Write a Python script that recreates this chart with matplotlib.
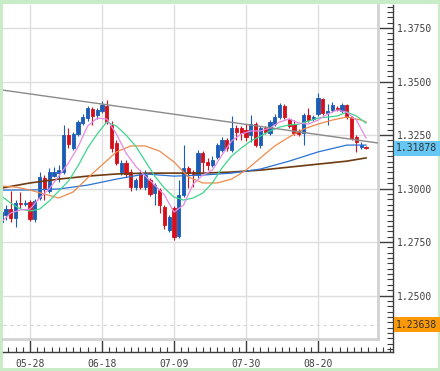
import matplotlib.pyplot as plt
import matplotlib.transforms as mtransforms
from matplotlib.patches import Rectangle
from matplotlib.ticker import MultipleLocator
import numpy as np
import pandas as pd

# daily candles, 2013-05-20 .. 2013-09-03 (weekdays)
dates = pd.bdate_range('2013-05-20', '2013-09-03').strftime('%m-%d').tolist()

opens = [1.2843, 1.2876, 1.2904, 1.2862, 1.2932, 1.2928, 1.2937, 1.2857, 1.2956, 1.3049,
         1.2988, 1.3058, 1.3072, 1.3077, 1.3250, 1.3189, 1.3255, 1.3306, 1.3329, 1.3371,
         1.3343, 1.3362, 1.3386, 1.3297, 1.3213, 1.3077, 1.3119, 1.3077, 1.3007, 1.3068,
         1.3007, 1.3040, 1.2979, 1.2993, 1.2914, 1.2806, 1.2909, 1.2778, 1.2970, 1.3096,
         1.3077, 1.3063, 1.3166, 1.3124, 1.3110, 1.3147, 1.3180, 1.3227, 1.3180, 1.3283,
         1.3283, 1.3273, 1.3250, 1.3301, 1.3203, 1.3283, 1.3259, 1.3301, 1.3334, 1.3386,
         1.3325, 1.3301, 1.3269, 1.3259, 1.3343, 1.3325, 1.3348, 1.3418, 1.3353, 1.3367,
         1.3376, 1.3362, 1.3390, 1.3334, 1.3241, 1.3194, 1.3194]
highs = [1.2909, 1.2923, 1.2988, 1.2946, 1.2984, 1.2946, 1.2946, 1.2951, 1.3077, 1.3063,
         1.3096, 1.3100, 1.3110, 1.3297, 1.3283, 1.3264, 1.3320, 1.3348, 1.3386, 1.3381,
         1.3376, 1.3409, 1.3414, 1.3315, 1.3227, 1.3133, 1.3133, 1.3091, 1.3049, 1.3086,
         1.3086, 1.3049, 1.3026, 1.3002, 1.2923, 1.2876, 1.2918, 1.3040, 1.3203, 1.3105,
         1.3086, 1.3180, 1.3175, 1.3143, 1.3152, 1.3213, 1.3241, 1.3236, 1.3339, 1.3297,
         1.3292, 1.3301, 1.3343, 1.3311, 1.3292, 1.3292, 1.3320, 1.3348, 1.3400, 1.3395,
         1.3329, 1.3320, 1.3278, 1.3353, 1.3376, 1.3343, 1.3446, 1.3423, 1.3395, 1.3404,
         1.3386, 1.3400, 1.3395, 1.3339, 1.3250, 1.3217, 1.3199]
lows = [1.2834, 1.2853, 1.2843, 1.2820, 1.2909, 1.2918, 1.2848, 1.2843, 1.2946, 1.2946,
        1.2979, 1.3054, 1.3030, 1.3068, 1.3189, 1.3180, 1.3245, 1.3297, 1.3315, 1.3297,
        1.3325, 1.3353, 1.3301, 1.3171, 1.3110, 1.3063, 1.3054, 1.2988, 1.2993, 1.2998,
        1.2993, 1.2965, 1.2923, 1.2886, 1.2811, 1.2797, 1.2759, 1.2769, 1.2960, 1.3002,
        1.3007, 1.3049, 1.3077, 1.3086, 1.3100, 1.3138, 1.3171, 1.3175, 1.3171, 1.3227,
        1.3227, 1.3222, 1.3217, 1.3194, 1.3189, 1.3255, 1.3250, 1.3292, 1.3325, 1.3325,
        1.3283, 1.3250, 1.3245, 1.3203, 1.3311, 1.3315, 1.3339, 1.3343, 1.3297, 1.3357,
        1.3362, 1.3353, 1.3325, 1.3227, 1.3171, 1.3185, 1.3185]
closes = [1.2890, 1.2904, 1.2862, 1.2932, 1.2928, 1.2932, 1.2857, 1.2942, 1.3054, 1.3002,
          1.3077, 1.3077, 1.3086, 1.3250, 1.3208, 1.3255, 1.3311, 1.3334, 1.3376, 1.3339,
          1.3367, 1.3390, 1.3311, 1.3189, 1.3119, 1.3119, 1.3068, 1.3007, 1.3040, 1.3007,
          1.3063, 1.2974, 1.3016, 1.2923, 1.2829, 1.2867, 1.2773, 1.2970, 1.3096, 1.3072,
          1.3068, 1.3166, 1.3124, 1.3110, 1.3133, 1.3203, 1.3227, 1.3189, 1.3283, 1.3264,
          1.3259, 1.3241, 1.3301, 1.3203, 1.3283, 1.3264, 1.3311, 1.3334, 1.3390, 1.3334,
          1.3292, 1.3259, 1.3255, 1.3343, 1.3320, 1.3334, 1.3423, 1.3353, 1.3362, 1.3390,
          1.3371, 1.3390, 1.3334, 1.3236, 1.3217, 1.3203, 1.31878]

# moving averages (day position, value)
ma_pink_days = [0, 2, 4, 6, 8, 10, 12, 14, 16, 18, 20, 22, 24, 26, 28, 30, 32, 34, 36, 38,
                40, 42, 44, 46, 48, 50, 52, 54, 56, 58, 60, 62, 64, 66, 68, 70, 72, 74, 76]
ma_pink = [1.2843, 1.2886, 1.2900, 1.2904, 1.2956, 1.2998, 1.3058, 1.3119, 1.3194, 1.3292,
           1.3329, 1.3325, 1.3255, 1.3166, 1.3105, 1.3058, 1.3016, 1.2970, 1.2890, 1.2923,
           1.3021, 1.3063, 1.3086, 1.3157, 1.3222, 1.3255, 1.3269, 1.3269, 1.3283, 1.3311,
           1.3325, 1.3306, 1.3301, 1.3320, 1.3348, 1.3367, 1.3357, 1.3320, 1.3236]
ma_green_days = ma_pink_days
ma_green = [1.2965, 1.2932, 1.2904, 1.2895, 1.2904, 1.2942, 1.2988, 1.3035, 1.3105, 1.3189,
            1.3255, 1.3311, 1.3292, 1.3250, 1.3199, 1.3128, 1.3058, 1.3002, 1.2960, 1.2946,
            1.2956, 1.2979, 1.3026, 1.3096, 1.3152, 1.3189, 1.3222, 1.3245, 1.3269, 1.3287,
            1.3297, 1.3301, 1.3315, 1.3329, 1.3334, 1.3339, 1.3357, 1.3339, 1.3306]
ma_orange_days = [0, 3, 6, 9, 12, 15, 18, 21, 24, 27, 30, 33, 36, 39, 42, 45, 48, 51, 54,
                  57, 60, 63, 66, 69, 72, 75, 76]
ma_orange = [1.3012, 1.3007, 1.2993, 1.2974, 1.2956, 1.2984, 1.3049, 1.3110, 1.3171, 1.3199,
             1.3199, 1.3175, 1.3124, 1.3054, 1.3026, 1.3026, 1.3044, 1.3086, 1.3143, 1.3199,
             1.3241, 1.3278, 1.3301, 1.3320, 1.3334, 1.3320, 1.3311]
ma_long_days = [0, 6, 12, 18, 24, 30, 36, 42, 48, 54, 60, 66, 72, 76]
ma_blue = [1.2993, 1.2993, 1.2998, 1.3016, 1.3044, 1.3068, 1.3058, 1.3063, 1.3072, 1.3091,
           1.3128, 1.3171, 1.3203, 1.3203]
ma_brown = [1.3002, 1.3026, 1.3044, 1.3058, 1.3068, 1.3072, 1.3072, 1.3072, 1.3077, 1.3086,
            1.3100, 1.3114, 1.3128, 1.3143]

trend_days = [0, 80]
trend_price = [1.3461, 1.3208]

date_ticks = ['05-28', '06-18', '07-09', '07-30', '08-20']
price_ticks = [1.2500, 1.2750, 1.3000, 1.3250, 1.3500, 1.3750]
last_price = 1.31878
ref_price = 1.23638

BLUE = '#1a5cb6'
RED = '#d3101c'
AXC = '#3c3c3c'
MONO = 'DejaVu Sans Mono'

W, H = 440, 371
fig = plt.figure(figsize=(W / 100, H / 100), dpi=100, facecolor='#c8ecc6')
fig.patches.append(Rectangle((3 / W, 1 - 368 / H), 435 / W, 364 / H,
                             transform=fig.transFigure, fc='white', ec='none', zorder=-5))


def frac(l, t, r, b):
    return [l / W, 1 - b / H, (r - l) / W, (b - t) / H]


axf = fig.add_axes(frac(3, 5, 393, 352))
ax = fig.add_axes(frac(3, 5, 378, 339))

# plot area scales
x0, x1 = 0.375, 78.5
y0, y1 = 1.2297, 1.38575
ax.set_xlim(x0, x1)
ax.set_ylim(y0, y1)
xpp = (x1 - x0) / 375
ypp = (y1 - y0) / 334
axf.set_xlim(x0, x0 + 390 * xpp)
axf.set_ylim(y1 - 347 * ypp, y1)

pos = np.arange(len(dates))
tick_pos = [dates.index(d) for d in date_ticks]

# grid + frame of the plot area
ax.set_facecolor('white')
ax.set_xticks(tick_pos)
ax.set_yticks(price_ticks)
ax.grid(color='#dedede', lw=1)
ax.tick_params(length=0, labelleft=False, labelbottom=False)
for s in ['top', 'left']:
    ax.spines[s].set_visible(False)
for s in ['right', 'bottom']:
    ax.spines[s].set_color('#d2d2d2')
    ax.spines[s].set_linewidth(2)
ax.axhline(ref_price, color='#d4d4d4', lw=0.8, ls=(0, (3, 3)), zorder=1)

# candles
o = np.array(opens)
c = np.array(closes)
col = np.where(c >= o, BLUE, RED)
ax.vlines(pos, lows, highs, colors=col, lw=0.8, zorder=2)
ax.bar(pos, np.abs(c - o), bottom=np.minimum(o, c), width=0.7, color=col,
       edgecolor=col, lw=0.6, zorder=3)

# moving averages and trend line
ax.plot(ma_long_days, ma_brown, color='#6e3b10', lw=1.2, zorder=4)
ax.plot(ma_long_days, ma_blue, color='#2a72d2', lw=0.9, zorder=4)
ax.plot(ma_orange_days, ma_orange, color='#f08a4c', lw=0.9, zorder=4)
ax.plot(ma_green_days, ma_green, color='#3fd68e', lw=0.9, zorder=4)
ax.plot(ma_pink_days, ma_pink, color='#e68ae6', lw=0.9, zorder=4)
ax.plot(trend_days, trend_price, color='#8a8a8a', lw=1, zorder=4)

# outer axes with ticks and labels
axf.patch.set_visible(False)
for s in ['top', 'left']:
    axf.spines[s].set_visible(False)
for s in ['right', 'bottom']:
    axf.spines[s].set_color(AXC)
    axf.spines[s].set_linewidth(1)
axf.yaxis.tick_right()
axf.set_yticks(price_ticks)
axf.set_yticklabels([f'{p:.4f}' for p in price_ticks], family=MONO, fontsize=7)
axf.yaxis.set_minor_locator(MultipleLocator(0.0025))
axf.set_xticks(tick_pos)
axf.set_xticklabels(date_ticks, family=MONO, fontsize=7)
axf.xaxis.set_minor_locator(MultipleLocator(1.5))
axf.tick_params(axis='y', which='major', direction='in', length=10.8, width=1,
                color=AXC, labelcolor='#404040', pad=2.5)
axf.tick_params(axis='y', which='minor', direction='in', length=4.3, width=0.8, color=AXC)
axf.tick_params(axis='x', which='major', direction='in', length=8.6, width=1,
                color=AXC, labelcolor='#404040', pad=5)
axf.tick_params(axis='x', which='minor', direction='in', length=3.6, width=0.8, color=AXC)

# current / reference price tags
tr = mtransforms.blended_transform_factory(axf.transAxes, axf.transData)
axf.text(1.0 + 3 / 390, last_price, f'{last_price:.5f}', transform=tr, ha='left', va='center',
         family=MONO, fontsize=7, color='#303030',
         bbox=dict(boxstyle='square,pad=0.25', fc='#66c6f4', ec='none'))
axf.text(1.0 + 3 / 390, ref_price, f'{ref_price:.5f}', transform=tr, ha='left', va='center',
         family=MONO, fontsize=7, color='#303030',
         bbox=dict(boxstyle='square,pad=0.25', fc='#fb9a06', ec='none'))

fig.savefig('out.png', dpi=100, facecolor=fig.get_facecolor())
